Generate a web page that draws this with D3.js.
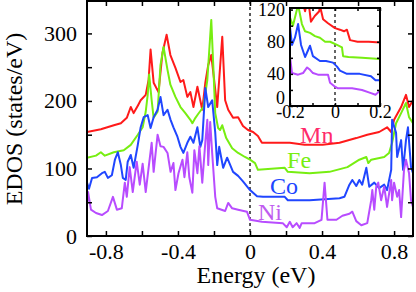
<!DOCTYPE html>
<html>
<head>
<meta charset="utf-8">
<script src="https://cdn.jsdelivr.net/npm/d3@7"></script>
<style>
  body { margin: 0; background: #fff; }
</style>
</head>
<body>
<script>
// EDOS curves, [energy (eV), states/eV]
var mnData = [[-0.905,154],[-0.828,158],[-0.756,164],[-0.717,167],[-0.684,175],[-0.662,191],[-0.646,182],[-0.623,193],[-0.607,201],[-0.579,209],[-0.563,231],[-0.552,276],[-0.535,227],[-0.508,213],[-0.486,271],[-0.463,298],[-0.442,268],[-0.414,249],[-0.386,228],[-0.370,231],[-0.348,206],[-0.331,213],[-0.314,191],[-0.292,221],[-0.265,187],[-0.248,227],[-0.232,253],[-0.215,268],[-0.199,231],[-0.182,191],[-0.154,295],[-0.138,201],[-0.121,187],[-0.094,175],[-0.066,176],[-0.039,163],[-0.011,157],[0.017,154],[0.044,148],[0.066,138],[0.138,138],[0.221,138],[0.303,135],[0.403,135],[0.497,138],[0.590,145],[0.651,150],[0.717,154],[0.761,161],[0.784,154],[0.800,172],[0.839,191],[0.866,209],[0.883,191],[0.905,201]];
var feData = [[-0.905,116],[-0.855,119],[-0.828,124],[-0.806,119],[-0.756,124],[-0.701,127],[-0.662,135],[-0.623,150],[-0.596,161],[-0.579,184],[-0.568,209],[-0.560,239],[-0.546,201],[-0.535,175],[-0.513,184],[-0.497,253],[-0.480,280],[-0.458,246],[-0.442,224],[-0.414,206],[-0.386,191],[-0.359,182],[-0.331,172],[-0.320,167],[-0.303,175],[-0.287,181],[-0.259,191],[-0.237,231],[-0.215,320],[-0.204,253],[-0.193,182],[-0.177,160],[-0.166,157],[-0.154,164],[-0.132,145],[-0.099,130],[-0.066,123],[-0.028,117],[0,113],[0.028,108],[0.044,98],[0.193,101],[0.210,95],[0.331,93],[0.441,95],[0.541,102],[0.607,113],[0.646,117],[0.657,108],[0.673,113],[0.745,117],[0.772,123],[0.789,138],[0.811,167],[0.839,182],[0.866,197],[0.883,176],[0.905,167]];
var coData = [[-0.905,79],[-0.894,70],[-0.877,86],[-0.850,87],[-0.822,93],[-0.806,95],[-0.789,86],[-0.767,90],[-0.750,113],[-0.734,124],[-0.717,105],[-0.706,86],[-0.690,83],[-0.679,110],[-0.662,120],[-0.646,101],[-0.623,135],[-0.607,161],[-0.590,176],[-0.568,179],[-0.552,160],[-0.535,176],[-0.513,187],[-0.497,206],[-0.480,179],[-0.458,187],[-0.441,172],[-0.425,161],[-0.403,147],[-0.386,132],[-0.370,123],[-0.348,138],[-0.331,147],[-0.314,138],[-0.292,161],[-0.276,132],[-0.265,142],[-0.248,219],[-0.232,191],[-0.210,201],[-0.193,153],[-0.182,105],[-0.171,132],[-0.149,101],[-0.127,116],[-0.094,95],[-0.066,89],[-0.039,81],[0,68],[0.039,59],[0.072,58],[0.193,58],[0.210,53],[0.331,53],[0.497,56],[0.524,58],[0.552,76],[0.568,83],[0.590,74],[0.607,83],[0.623,76],[0.646,101],[0.662,73],[0.690,79],[0.717,71],[0.745,76],[0.761,68],[0.784,98],[0.789,172],[0.811,153],[0.817,117],[0.839,142],[0.850,98],[0.866,142],[0.877,161],[0.894,102],[0.905,93]];
var niData = [[-0.905,46],[-0.899,65],[-0.883,39],[-0.855,34],[-0.822,31],[-0.789,37],[-0.761,58],[-0.739,39],[-0.712,41],[-0.695,79],[-0.684,58],[-0.668,102],[-0.651,65],[-0.629,110],[-0.612,76],[-0.596,107],[-0.579,65],[-0.563,101],[-0.546,138],[-0.535,95],[-0.513,150],[-0.497,133],[-0.480,132],[-0.458,123],[-0.441,95],[-0.425,108],[-0.414,68],[-0.397,93],[-0.375,113],[-0.364,87],[-0.348,124],[-0.337,87],[-0.320,64],[-0.309,127],[-0.292,93],[-0.281,133],[-0.265,79],[-0.248,139],[-0.237,172],[-0.232,105],[-0.221,169],[-0.210,123],[-0.193,58],[-0.182,41],[-0.138,37],[-0.121,49],[-0.099,41],[-0.066,39],[-0.017,36],[0,24],[0.066,21],[0.182,19],[0.204,13],[0.221,21],[0.237,13],[0.259,19],[0.276,12],[0.287,19],[0.359,19],[0.397,24],[0.414,79],[0.430,24],[0.480,24],[0.513,30],[0.552,33],[0.568,36],[0.590,22],[0.618,16],[0.651,19],[0.673,53],[0.679,68],[0.690,39],[0.701,73],[0.712,79],[0.728,53],[0.745,73],[0.756,53],[0.761,43],[0.784,83],[0.789,53],[0.800,79],[0.817,58],[0.828,68],[0.839,28],[0.855,98],[0.866,113],[0.883,93],[0.894,53],[0.905,43]];

// inset, zoom near the Fermi level
var mnInset = [[-0.2,170],[-0.16,150],[-0.14,125],[-0.133,118],[-0.12,135],[-0.107,105],[-0.09,112],[-0.07,118],[-0.067,125],[-0.053,108],[-0.031,103],[0,97],[0.022,95],[0.04,93],[0.053,95],[0.067,82],[0.1,80],[0.15,80],[0.2,79]];
var feInset = [[-0.2,110],[-0.187,100],[-0.164,126],[-0.147,102],[-0.133,93],[-0.111,91],[-0.089,87],[-0.067,85],[-0.044,80],[-0.022,80],[0.009,76],[0.031,73],[0.036,62],[0.06,61],[0.12,60],[0.2,58.5]];
var coInset = [[-0.2,98],[-0.191,76],[-0.178,85],[-0.164,102],[-0.151,76],[-0.133,61],[-0.111,75],[-0.098,62],[-0.067,56],[-0.04,56],[-0.009,54],[0.009,49],[0.022,44],[0.053,40],[0.11,40],[0.16,37],[0.18,32],[0.2,32]];
var niInset = [[-0.2,61],[-0.191,41],[-0.164,39],[-0.142,41],[-0.124,48],[-0.111,45],[-0.098,41],[-0.076,39],[-0.031,39],[-0.022,29],[0,24],[0.013,22],[0.076,22],[0.12,20],[0.16,16],[0.18,14],[0.2,19]];

var elements = ['Mn', 'Fe', 'Co', 'Ni'];
var colors = ['#ff1a1a', '#77ee11', '#2046ff', '#b84cff'];
var labelColors = ['#ff2a6a', '#77ee11', '#2046ff', '#c05cf0'];
var mainSeries = [mnData, feData, coData, niData];
var insetSeries = [mnInset, feInset, coInset, niInset];
// label anchor in data units: [energy, states/eV] of the text baseline start
var labelPos = [[0.278, 138], [0.206, 101], [0.111, 62], [0.044, 24]];

var xTicks = [-0.8, -0.6, -0.4, -0.2, 0, 0.2, 0.4, 0.6, 0.8];
var xLabels = [-0.8, -0.4, 0, 0.4, 0.8];
var yTicks = [0, 50, 100, 150, 200, 250, 300];
var yLabels = [0, 100, 200, 300];
var insetXTicks = [-0.2, -0.1, 0, 0.1, 0.2];
var insetXLabels = [-0.2, 0, 0.2];
var insetYTicks = [0, 20, 40, 60, 80, 100, 120];
var insetYLabels = [0, 40, 80, 120];

var W = 416, H = 292;
var m = {left: 87, right: 3, top: 1, bottom: 56};
var serif = "'Liberation Serif', serif";

var svg = d3.select('body').append('svg').attr('width', W).attr('height', H);

var x = d3.scaleLinear().domain([-0.905, 0.905]).range([m.left, W - m.right]);
var y = d3.scaleLinear().domain([0, 348]).range([H - m.bottom, m.top]);

var fmt = function(d) { return d === 0 ? '0' : d.toFixed(1); };

svg.append('clipPath').attr('id', 'mainClip').append('rect')
    .attr('x', m.left).attr('y', m.top).attr('width', W - m.right - m.left).attr('height', H - m.bottom - m.top);

// dashed Fermi line
svg.append('line').attr('x1', x(0)).attr('x2', x(0)).attr('y1', m.top).attr('y2', H - m.bottom)
    .attr('stroke', '#000').attr('stroke-width', 1.3).attr('stroke-dasharray', '3,3');

var line = d3.line().x(function(d) { return x(d[0]); }).y(function(d) { return y(d[1]); });

var g = svg.append('g').attr('clip-path', 'url(#mainClip)');
mainSeries.forEach(function(s, i) {
    g.append('path').datum(s).attr('d', line).attr('fill', 'none')
        .attr('stroke', colors[i]).attr('stroke-width', 2).attr('stroke-linejoin', 'round');
});

// axes, ticks inward on all sides
function addAxes(sx, sy, xt, xl, yt, yl, tickLen, fontSize, xLabelDy, yLabelDx) {
    var x0 = sx.range()[0], x1 = sx.range()[1], y0 = sy.range()[0], y1 = sy.range()[1];
    var bottom = svg.append('g').attr('transform', 'translate(0,' + y0 + ')')
        .call(d3.axisBottom(sx).tickValues(xt).tickSize(-tickLen).tickFormat(function(d) { return xl.indexOf(d) >= 0 ? fmt(d) : ''; }));
    var top = svg.append('g').attr('transform', 'translate(0,' + y1 + ')')
        .call(d3.axisTop(sx).tickValues(xt).tickSize(-tickLen).tickFormat(''));
    var left = svg.append('g').attr('transform', 'translate(' + x0 + ',0)')
        .call(d3.axisLeft(sy).tickValues(yt).tickSize(-tickLen).tickFormat(function(d) { return yl.indexOf(d) >= 0 ? d : ''; }));
    var right = svg.append('g').attr('transform', 'translate(' + x1 + ',0)')
        .call(d3.axisRight(sy).tickValues(yt).tickSize(-tickLen).tickFormat(''));
    [bottom, top, left, right].forEach(function(a) {
        a.select('.domain').remove();
        a.selectAll('line').attr('stroke', '#000').attr('stroke-width', 1.5);
        a.selectAll('text').style('font-family', serif).style('font-size', fontSize + 'px').attr('fill', '#000');
    });
    bottom.selectAll('text').attr('dy', xLabelDy);
    left.selectAll('text').attr('dx', yLabelDx);
    svg.append('rect').attr('x', x0).attr('y', y1).attr('width', x1 - x0).attr('height', y0 - y1)
        .attr('fill', 'none').attr('stroke', '#000').attr('stroke-width', 2);
    return left;
}

addAxes(x, y, xTicks, xLabels, yTicks, yLabels, 5, 22, '0.92em', '-7px');

svg.append('text').attr('x', 256).attr('y', 283)
    .attr('text-anchor', 'middle').style('font-family', serif).style('font-size', '24px').text('Energy (eV)');
svg.append('text').attr('transform', 'translate(22,119) rotate(-90)')
    .attr('text-anchor', 'middle').style('font-family', serif).style('font-size', '24px').text('EDOS (states/eV)');

elements.forEach(function(el, i) {
    svg.append('text').attr('x', x(labelPos[i][0])).attr('y', y(labelPos[i][1]))
        .style('font-family', serif).style('font-size', '24px').attr('fill', labelColors[i]).text(el);
});

// inset
var ix = d3.scaleLinear().domain([-0.2, 0.2]).range([290, 380]);
var iy = d3.scaleLinear().domain([0, 122]).range([106, 8]);

svg.append('rect').attr('x', 290).attr('y', 8).attr('width', 90).attr('height', 98).attr('fill', '#fff');
svg.append('clipPath').attr('id', 'insetClip').append('rect')
    .attr('x', 290).attr('y', 8).attr('width', 90).attr('height', 98);
svg.append('line').attr('x1', ix(0)).attr('x2', ix(0)).attr('y1', 8).attr('y2', 106)
    .attr('stroke', '#000').attr('stroke-width', 1.2).attr('stroke-dasharray', '3,3');

var iline = d3.line().x(function(d) { return ix(d[0]); }).y(function(d) { return iy(d[1]); });
var ig = svg.append('g').attr('clip-path', 'url(#insetClip)');
insetSeries.forEach(function(s, i) {
    ig.append('path').datum(s).attr('d', iline).attr('fill', 'none')
        .attr('stroke', colors[i]).attr('stroke-width', 2).attr('stroke-linejoin', 'round');
});

var insetLeft = addAxes(ix, iy, insetXTicks, insetXLabels, insetYTicks, insetYLabels, 3, 18, '0.52em', '-2px');
// lift the inset's 0 label clear of the x labels
insetLeft.selectAll('text').filter(function(d) { return d === 0; }).attr('dy', '-0.12em');
</script>
</body>
</html>
